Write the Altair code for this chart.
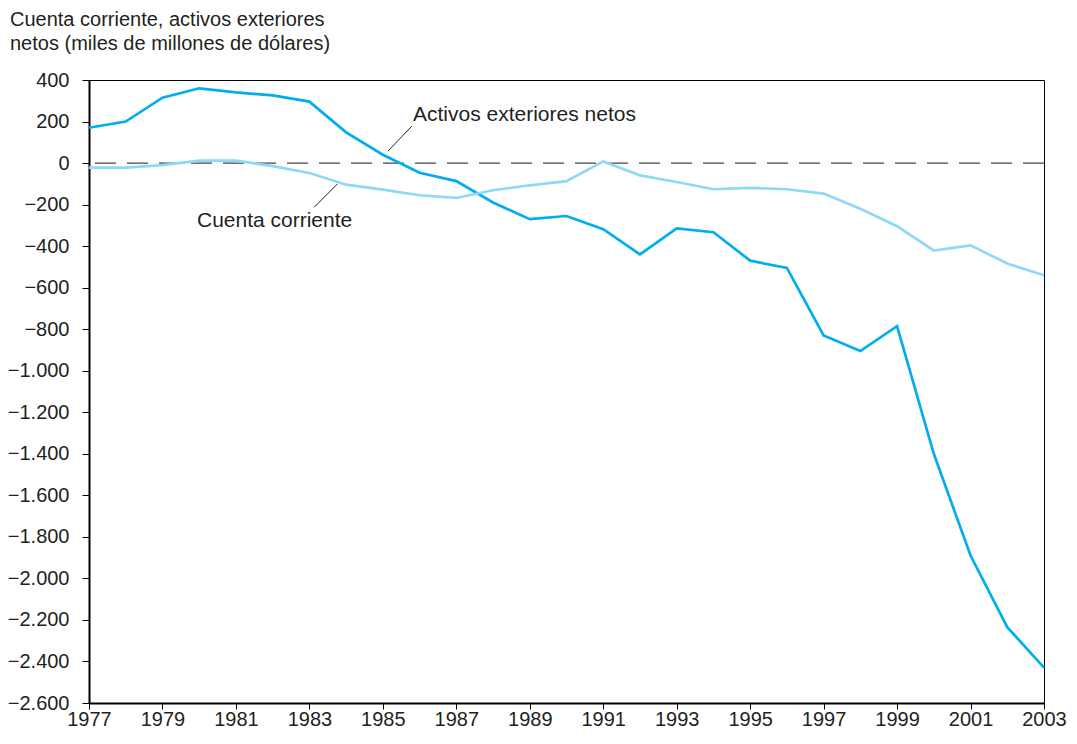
import altair as alt
import pandas as pd

years = list(range(1977, 2004))
activos = [170, 200, 315, 360, 340, 326, 296, 148, 40, -47, -87, -190, -270, -255,
           -318, -440, -315, -333, -470, -505, -830, -905, -785, -1400, -1890, -2235, -2430]
cuenta = [-22, -22, -10, 12, 12, -15, -48, -104, -128, -155, -168, -131, -107, -87,
          8, -59, -91, -126, -119, -126, -147, -220, -304, -421, -396, -484, -540]

label_text = ["Activos exteriores netos", "Cuenta corriente"]
label_x = [1985.82, 1979.94]
label_y = [202, -306]
leader_x = [1985.14, 1983.13]
leader_y = [58, -213]
leader_x2 = [1985.79, 1983.76]
leader_y2 = [178, -101]

FONT = "Liberation Sans"
TXT = "#231F20"

df = pd.DataFrame({
    "year": years * 2,
    "value": activos + cuenta,
    "serie": ["Activos exteriores netos"] * len(years) + ["Cuenta corriente"] * len(years),
})
labels = pd.DataFrame({"text": label_text, "x": label_x, "y": label_y})
leaders = pd.DataFrame({"x": leader_x, "y": leader_y, "x2": leader_x2, "y2": leader_y2})
zero = pd.DataFrame({"y": [0]})

xscale = alt.Scale(domain=[1977, 2003], nice=False, zero=False)
yscale = alt.Scale(domain=[-2600, 400], nice=False)

label_expr_y = ("datum.value % 200 != 0 ? '' : (datum.value < 0 ? '\u2212' + "
                "replace(format(-datum.value, ','), ',', '.') : "
                "replace(format(datum.value, ','), ',', '.'))")

xaxis = alt.Axis(values=years, labelExpr="datum.value % 2 == 1 ? format(datum.value, 'd') : ''",
                 title=None, grid=False, tickSize=6, tickColor="black", domainColor="black",
                 domainWidth=2, labelFont=FONT, labelFontSize=20, labelColor=TXT,
                 labelPadding=0, labelFlush=False, labelOverlap=False)
yaxis = alt.Axis(values=list(range(-2600, 401, 100)), labelExpr=label_expr_y, title=None,
                 grid=False, tickSize=7, tickColor="black", domainColor="black",
                 domainWidth=2, labelFont=FONT, labelFontSize=20, labelColor=TXT,
                 labelPadding=13, labelOverlap=False)

base_lines = alt.Chart(df).mark_line(strokeWidth=2.7).encode(
    x=alt.X("year:Q", scale=xscale, axis=xaxis),
    y=alt.Y("value:Q", scale=yscale, axis=yaxis),
    color=alt.Color("serie:N", scale=alt.Scale(
        domain=["Activos exteriores netos", "Cuenta corriente"],
        range=["#00AEEF", "#8ED8F8"]), legend=None),
    order=alt.Order("serie:N", sort="descending"),
)

zero_line = alt.Chart(zero).mark_rule(color="#444444", strokeWidth=1.3,
                                      strokeDash=[21, 11]).encode(
    y=alt.Y("y:Q", scale=yscale),
)

text = alt.Chart(labels).mark_text(align="left", baseline="alphabetic", font=FONT,
                                   fontSize=21, color=TXT).encode(
    x=alt.X("x:Q", scale=xscale), y=alt.Y("y:Q", scale=yscale), text="text:N")

leader = alt.Chart(leaders).mark_rule(color=TXT, strokeWidth=1).encode(
    x=alt.X("x:Q", scale=xscale), y=alt.Y("y:Q", scale=yscale),
    x2="x2:Q", y2="y2:Q")

chart = alt.layer(zero_line, base_lines, leader, text).properties(
    width=955, height=623,
    title=alt.TitleParams(
        text=["Cuenta corriente, activos exteriores", "netos (miles de millones de dólares)"],
        anchor="start", frame="group", dx=-79, offset=16, font=FONT, fontSize=20,
        fontWeight="normal", color=TXT, lineHeight=24),
    autosize=alt.AutoSizeParams(type="none"),
    padding={"left": 81, "top": 72, "right": 25, "bottom": 33},
).configure_view(stroke="black", strokeWidth=1)

chart.save("out.html", embed_options={"renderer": "svg", "actions": False})
